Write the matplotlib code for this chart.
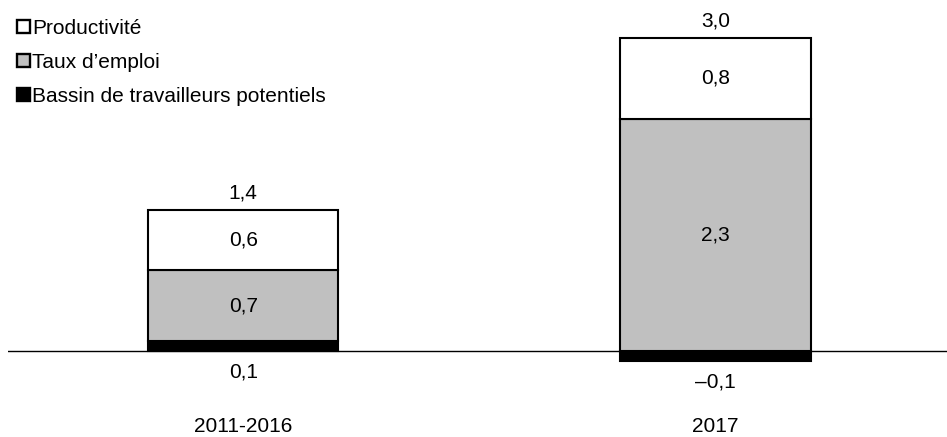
import matplotlib.pyplot as plt
from matplotlib.patches import Patch

plt.rcParams['font.family'] = ['Liberation Sans', 'DejaVu Sans']

# données
periodes = ["2011-2016", "2017"]
bassin = [0.1, -0.1]
taux_emploi = [0.7, 2.3]
productivite = [0.6, 0.8]
totaux = [1.4, 3.0]
noms = ["Productivité", "Taux d\u2019emploi", "Bassin de travailleurs potentiels"]


def fr(v):
    s = f"{abs(v):.1f}".replace(".", ",")
    return ("\u2013" + s) if v < 0 else s


fig = plt.figure(figsize=(9.47, 4.37), dpi=100)
ax = fig.add_axes([8 / 947, 0, 939 / 947, 1])

x = list(range(len(periodes)))
w = 0.4025
gris = "#c0c0c0"
fs = 15

ax.axhline(0, color="black", lw=1, zorder=1)

for i in x:
    b = bassin[i]
    base_gris = max(b, 0)
    ax.bar(i, b, w, bottom=0, color="black", edgecolor="black", lw=1.5, zorder=2)
    ax.bar(i, taux_emploi[i], w, bottom=base_gris, color=gris, edgecolor="black", lw=1.5, zorder=2)
    haut = base_gris + taux_emploi[i]
    ax.bar(i, productivite[i], w, bottom=haut, color="white", edgecolor="black", lw=1.5, zorder=2)

    ax.text(i, base_gris + taux_emploi[i] / 2, fr(taux_emploi[i]), ha="center", va="center", fontsize=fs)
    ax.text(i, haut + productivite[i] / 2, fr(productivite[i]), ha="center", va="center", fontsize=fs)
    ax.annotate(fr(totaux[i]), (i, haut + productivite[i]), xytext=(0, 8), textcoords="offset points",
                ha="center", va="baseline", fontsize=fs)
    ax.annotate(fr(b), (i, min(b, 0)), xytext=(0, -15), textcoords="offset points",
                ha="center", va="center", fontsize=fs)
    ax.text(i, -0.743, periodes[i], ha="center", va="center", fontsize=fs)

ax.set_xlim(-0.498, 1.49)
ax.set_ylim(-(437 - 351) / 101, 351 / 101)
ax.axis("off")

handles = [Patch(facecolor="white", edgecolor="black", lw=1.7),
           Patch(facecolor=gris, edgecolor="black", lw=1.7),
           Patch(facecolor="black", edgecolor="black", lw=1.7)]
leg = fig.legend(handles, noms, loc="upper left", bbox_to_anchor=(17 / 947, 1 - 19 / 437),
                 frameon=False, fontsize=fs, handlelength=0.6, handleheight=0.6,
                 handletextpad=0.12, labelspacing=0.72, borderaxespad=0, borderpad=0)

fig.savefig("out.png", dpi=100)
